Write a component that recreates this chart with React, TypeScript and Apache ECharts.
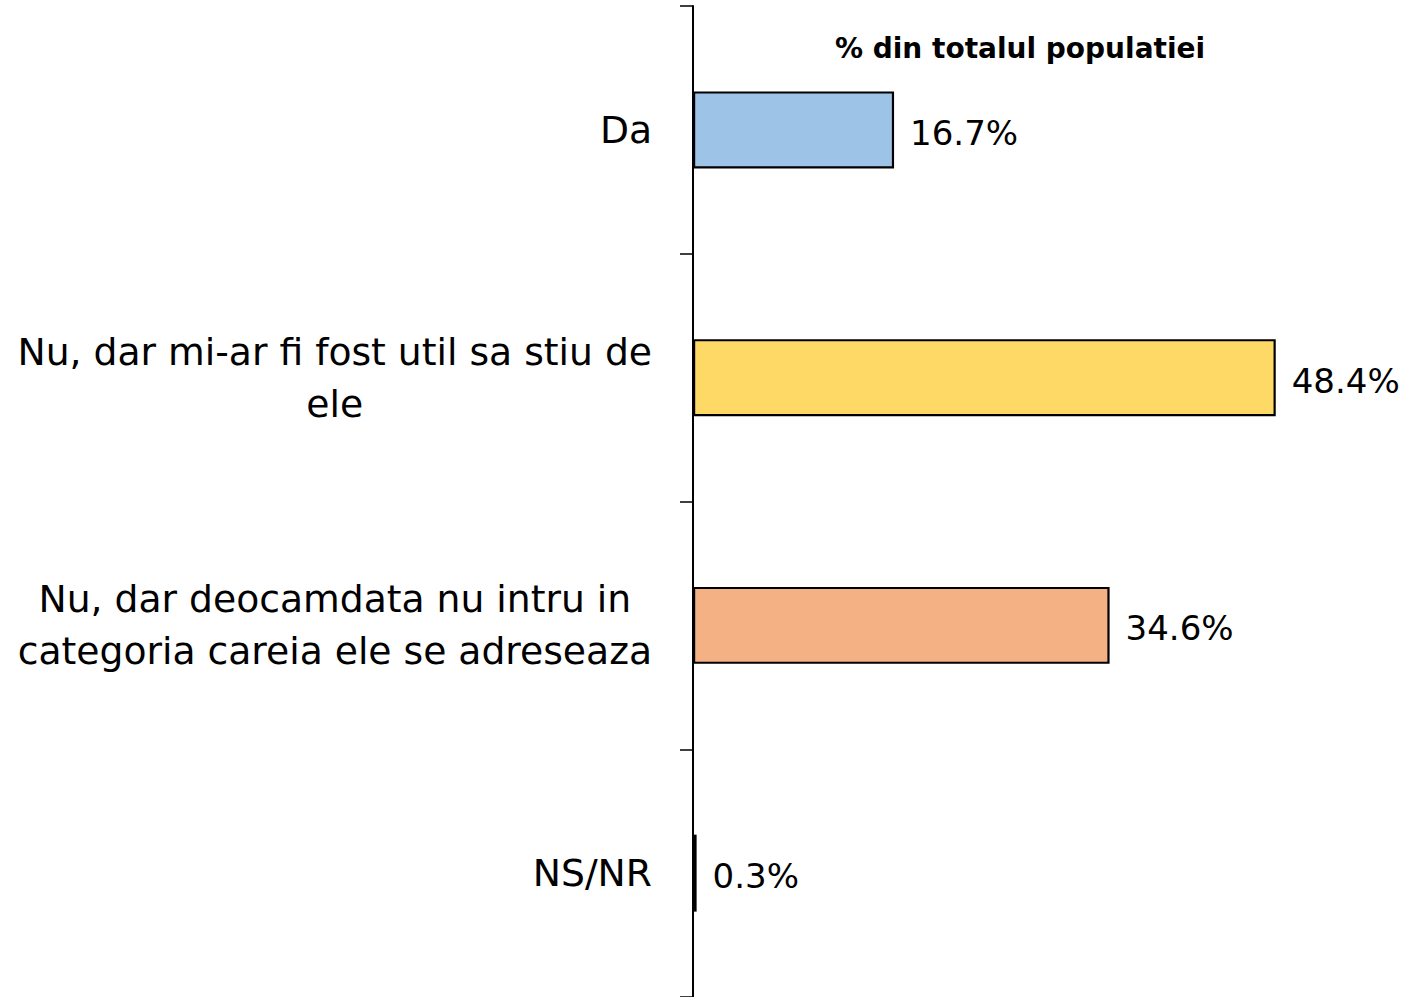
import React, { useEffect, useRef } from "react";
import * as echarts from "echarts";

const categories = [
  "Da",
  "Nu, dar mi-ar fi fost util sa stiu de\nele",
  "Nu, dar deocamdata nu intru in\ncategoria careia ele se adreseaza",
  "NS/NR",
];
const values = [16.7, 48.4, 34.6, 0.3];
const colors = ["#9DC3E6", "#FFD966", "#F4B183", "#A5A5A5"];
const title = "% din totalul populatiei";

const FONT = "'DejaVu Sans', sans-serif";

export default function App() {
  const ref = useRef<HTMLDivElement>(null);
  useEffect(() => {
    if (!ref.current) return;
    const chart = echarts.init(ref.current, null, { renderer: "svg" });
    chart.setOption({
      animation: false,
      backgroundColor: "#ffffff",
      title: {
        text: title,
        left: 1015,
        top: 29,
        textAlign: "center",
        textStyle: { fontFamily: FONT, fontWeight: "bold", fontSize: 28, color: "#000" },
      },
      grid: { left: 693, top: 6, right: 119, bottom: -2, containLabel: false },
      xAxis: {
        type: "value",
        min: 0,
        max: 50,
        show: false,
      },
      yAxis: {
        type: "category",
        inverse: true,
        data: categories,
        axisLine: { show: true, lineStyle: { color: "#000", width: 2 } },
        axisTick: { show: true, length: 13, lineStyle: { color: "#000", width: 1.5 } },
        axisLabel: {
          margin: 41,
          formatter: (v: string) => v.split("\n").map((l) => `{c|${l}}`).join("\n"),
          rich: {
            c: {
              align: "center",
              fontFamily: FONT,
              fontSize: 37.7,
              lineHeight: 52,
              color: "#000",
            },
          },
        },
      },
      series: [
        {
          type: "bar",
          barWidth: 77,
          data: values.map((v, i) => ({
            value: v,
            itemStyle: { color: colors[i], borderColor: "#000", borderWidth: 2.2 },
          })),
          label: {
            show: true,
            position: "right",
            distance: 16,
            formatter: "{c}%",
            fontFamily: FONT,
            fontSize: 34,
            color: "#000",
            offset: [0, 3],
          },
        },
      ],
    });
    return () => chart.dispose();
  }, []);
  return (
    <div
      ref={ref}
      style={{ position: "absolute", left: 0, top: 0, width: 1414, height: 997 }}
    />
  );
}
